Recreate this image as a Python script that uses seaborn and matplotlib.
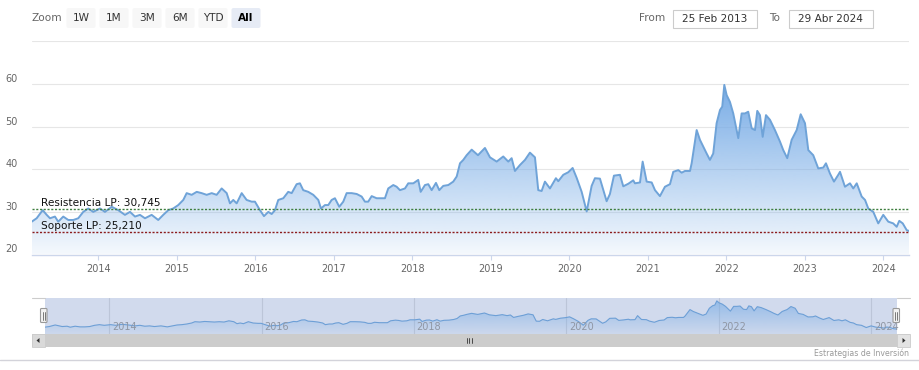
import matplotlib
matplotlib.use("Agg")
import matplotlib.pyplot as plt
import matplotlib.transforms as mtransforms
from matplotlib.colors import to_rgb
from matplotlib.patches import FancyBboxPatch, Rectangle, Polygon
import seaborn as sns
import pandas as pd
import numpy as np

# price series (decimal year, price)
years = [
    2013.152, 2013.215, 2013.292, 2013.343, 2013.385, 2013.448, 2013.490, 2013.554, 2013.618, 2013.682,
    2013.745, 2013.809, 2013.873, 2013.936, 2014.022, 2014.085, 2014.171, 2014.255, 2014.340, 2014.404,
    2014.468, 2014.531, 2014.595, 2014.680, 2014.764, 2014.828, 2014.892, 2014.955, 2015.019, 2015.083,
    2015.126, 2015.190, 2015.254, 2015.317, 2015.381, 2015.445, 2015.508, 2015.572, 2015.636, 2015.678,
    2015.720, 2015.763, 2015.827, 2015.890, 2015.954, 2015.996, 2016.060, 2016.111, 2016.166, 2016.209,
    2016.251, 2016.293, 2016.357, 2016.420, 2016.464, 2016.527, 2016.569, 2016.611, 2016.675, 2016.739,
    2016.803, 2016.837, 2016.888, 2016.930, 2016.973, 2017.015, 2017.070, 2017.121, 2017.164, 2017.228,
    2017.292, 2017.355, 2017.397, 2017.439, 2017.483, 2017.546, 2017.610, 2017.652, 2017.694, 2017.758,
    2017.801, 2017.843, 2017.907, 2017.949, 2018.013, 2018.076, 2018.107, 2018.162, 2018.204, 2018.247,
    2018.302, 2018.344, 2018.395, 2018.459, 2018.522, 2018.566, 2018.608, 2018.650, 2018.693, 2018.757,
    2018.837, 2018.926, 2018.990, 2019.075, 2019.159, 2019.223, 2019.266, 2019.308, 2019.372, 2019.436,
    2019.499, 2019.563, 2019.605, 2019.648, 2019.690, 2019.754, 2019.830, 2019.860, 2019.924, 2019.987,
    2020.043, 2020.094, 2020.158, 2020.222, 2020.285, 2020.327, 2020.391, 2020.476, 2020.518, 2020.569,
    2020.646, 2020.688, 2020.752, 2020.815, 2020.837, 2020.901, 2020.935, 2020.986, 2021.050, 2021.092,
    2021.155, 2021.219, 2021.283, 2021.325, 2021.389, 2021.432, 2021.474, 2021.538, 2021.559, 2021.623,
    2021.665, 2021.707, 2021.750, 2021.792, 2021.834, 2021.877, 2021.920, 2021.949, 2021.975, 2022.005,
    2022.047, 2022.089, 2022.153, 2022.196, 2022.238, 2022.280, 2022.324, 2022.366, 2022.395, 2022.429,
    2022.464, 2022.506, 2022.557, 2022.620, 2022.684, 2022.726, 2022.777, 2022.833, 2022.897, 2022.948,
    2023.003, 2023.045, 2023.108, 2023.172, 2023.236, 2023.270, 2023.321, 2023.372, 2023.427, 2023.449,
    2023.512, 2023.576, 2023.618, 2023.662, 2023.725, 2023.768, 2023.809, 2023.873, 2023.936, 2024.000,
    2024.064, 2024.127, 2024.171, 2024.204, 2024.248, 2024.299, 2024.333,
]
prices = [
    27.7, 28.5, 30.4, 29.3, 28.5, 28.9, 27.7, 28.9, 28.1, 28.1,
    28.5, 30.0, 30.8, 30.0, 30.8, 30.0, 31.2, 30.4, 29.3, 30.0,
    28.9, 29.3, 28.5, 29.3, 28.1, 29.3, 30.4, 30.8, 31.6, 32.8,
    34.4, 34.0, 34.7, 34.4, 34.0, 34.4, 34.0, 35.5, 34.4, 32.0,
    32.8, 32.0, 34.4, 32.8, 32.4, 32.4, 30.4, 29.0, 30.0, 29.5,
    30.4, 32.8, 33.2, 34.7, 34.4, 36.5, 36.7, 35.1, 34.7, 34.0,
    32.8, 30.8, 31.6, 31.6, 32.8, 33.2, 31.2, 32.4, 34.4, 34.4,
    34.2, 33.6, 32.4, 32.4, 33.7, 33.2, 33.2, 33.2, 35.5, 36.3,
    35.9, 35.1, 35.5, 36.7, 36.7, 37.5, 34.7, 36.3, 36.5, 35.1,
    36.8, 35.1, 36.1, 36.3, 37.1, 38.3, 41.4, 42.2, 43.3, 44.6,
    43.3, 45.0, 42.8, 41.8, 43.0, 41.8, 42.6, 39.6, 41.0, 42.2,
    43.9, 42.8, 35.1, 34.9, 37.1, 35.5, 37.9, 37.2, 38.7, 39.3,
    40.3, 38.0, 34.7, 30.1, 36.1, 37.9, 37.8, 32.5, 34.2, 38.5,
    38.7, 36.0, 36.6, 37.4, 36.7, 36.9, 41.8, 37.1, 36.9, 35.1,
    33.7, 35.9, 36.5, 39.4, 39.8, 39.2, 39.6, 39.6, 41.4, 49.2,
    46.9, 45.3, 43.7, 42.2, 43.7, 50.8, 53.9, 54.7, 59.8, 57.4,
    55.8, 53.1, 47.3, 53.1, 53.1, 53.5, 49.6, 49.2, 53.7, 52.7,
    47.6, 52.7, 51.6, 49.2, 46.5, 44.5, 42.6, 46.9, 49.2, 52.9,
    50.8, 44.5, 43.3, 40.2, 40.4, 41.4, 39.0, 37.1, 38.7, 39.4,
    35.9, 36.7, 35.5, 36.7, 33.6, 32.8, 30.8, 30.0, 27.3, 29.3,
    27.7, 27.3, 26.5, 27.9, 27.3, 25.7, 25.5,
]

resistance = 30.745
support = 25.210
resistance_label = "Resistencia LP: 30,745"
support_label = "Soporte LP: 25,210"
y_ticks = [20, 30, 40, 50, 60, 70]
x_ticks = list(range(2014, 2025))
nav_ticks = [2014, 2016, 2018, 2020, 2022, 2024]
zoom_buttons = ["1W", "1M", "3M", "6M", "YTD", "All"]
date_from = "25 Feb 2013"
date_to = "29 Abr 2024"
credit = "Estrategias de Inversión"

sns.set_theme(style="white")
plt.rcParams["font.family"] = ["DejaVu Sans"]

W, H = 919, 370
fig = plt.figure(figsize=(W / 100, H / 100), dpi=100)


def px_axes(x0, y0, x1, y1, **kw):
    return fig.add_axes([x0 / W, 1 - y1 / H, (x1 - x0) / W, (y1 - y0) / H], **kw)


def gradient_area(ax, x, y, base, bottom, top, a_bot, a_top, z):
    poly = ax.fill_between(x, y, bottom, color="none", lw=0)
    path = poly.get_paths()[0]
    n = 256
    rgba = np.zeros((n, 1, 4))
    rgba[..., :3] = to_rgb(base)
    rgba[:, 0, 3] = np.linspace(a_bot, a_top, n)
    im = ax.imshow(rgba, extent=[x[0], x[-1], bottom, top], origin="lower",
                   aspect="auto", zorder=z, interpolation="bilinear")
    im.set_clip_path(path, transform=ax.transData)


df = pd.DataFrame({"year": years, "price": prices})
line_c = "#6fa3d8"

# main chart
ax = px_axes(31.7, 41.4, 909.4, 254.5)
gradient_area(ax, years, prices, "#78ace6", 20, max(prices), 0.08, 1.0, 1)
sns.lineplot(data=df, x="year", y="price", ax=ax, color=line_c, lw=1.4,
             estimator=None, zorder=3)
ax.axhline(resistance, color="#3f7f3f", lw=1, ls=(0, (1.5, 1.2)), zorder=4)
ax.axhline(support, color="#8c1c1c", lw=1, ls=(0, (1.5, 1.2)), zorder=4)
blend = mtransforms.blended_transform_factory(ax.transAxes, ax.transData)
for val, lab in [(resistance, resistance_label), (support, support_label)]:
    ax.annotate(lab, xy=(0, val), xycoords=blend, xytext=(6.5, 2.2),
                textcoords="offset points", ha="left", va="baseline",
                fontsize=7.6, color="#111111", zorder=5)

ax.set_xlim(years[0], years[-1])
ax.set_ylim(20, 70)
ax.set_yticks(y_ticks)
ax.set_yticklabels(["" if v == 70 else str(v) for v in y_ticks], va="bottom")
ax.set_xticks(x_ticks)
ax.set_xticklabels([str(v) for v in x_ticks])
ax.tick_params(axis="y", length=0, pad=10, labelsize=7, labelcolor="#666666")
ax.tick_params(axis="x", length=3.5, width=0.8, color="#ccd6eb", pad=3.5,
               labelsize=7, labelcolor="#666666", bottom=True)
ax.grid(axis="y", color="#e6e6e6", lw=0.8)
ax.grid(axis="x", visible=False)
for side in ["top", "left", "right"]:
    ax.spines[side].set_visible(False)
ax.spines["bottom"].set_color("#ccd6eb")
ax.spines["bottom"].set_linewidth(1)
ax.set_xlabel("")
ax.set_ylabel("")
ax.set_facecolor("white")

# navigator
nav = px_axes(44.5, 298, 896.5, 334)
nav.set_facecolor("#d1daed")
for yr in nav_ticks:
    nav.axvline(yr, color="#bcc5d8", lw=0.8, zorder=0)
gradient_area(nav, years, prices, "#7aaee6", 19.4, max(prices), 0.05, 0.7, 1)
sns.lineplot(data=df, x="year", y="price", ax=nav, color="#6d9fd6", lw=0.8,
             estimator=None, zorder=3)
nblend = mtransforms.blended_transform_factory(nav.transData, nav.transAxes)
for yr in nav_ticks:
    nav.annotate(str(yr), xy=(yr, 0.2), xycoords=nblend, xytext=(2, 0),
                 textcoords="offset points", ha="left", va="center",
                 fontsize=7, color="#8f96a3", zorder=4)
nav.set_xlim(years[0], years[-1])
nav.set_ylim(19.4, 63.3)
nav.set_xticks([])
nav.set_yticks([])
nav.set_xlabel("")
nav.set_ylabel("")
for s in nav.spines.values():
    s.set_visible(False)

# overlay for the range selector, scrollbar and handles
ov = fig.add_axes([0, 0, 1, 1], zorder=10)
ov.set_xlim(0, W)
ov.set_ylim(H, 0)
ov.axis("off")
ov.patch.set_alpha(0)

ov.text(47, 18, "Zoom", ha="center", va="center", fontsize=7.6, color="#666666")
for i, lab in enumerate(zoom_buttons):
    cx = 81 + i * 33
    sel = lab == "All"
    ov.add_patch(FancyBboxPatch((cx - 14.5, 8), 29, 20,
                                boxstyle="round,pad=0,rounding_size=2",
                                fc="#e6ebf5" if sel else "#f7f7f7", ec="none"))
    ov.text(cx, 18, lab, ha="center", va="center", fontsize=7.6,
            color="#000000" if sel else "#333333",
            fontweight="bold" if sel else "normal")

ov.text(652, 18, "From", ha="center", va="center", fontsize=7.6, color="#666666")
ov.add_patch(Rectangle((672.5, 9.5), 84, 18.5, fc="white", ec="#cccccc", lw=0.8))
ov.text(714.5, 18.7, date_from, ha="center", va="center", fontsize=7.6, color="#333333")
ov.text(774.5, 18, "To", ha="center", va="center", fontsize=7.6, color="#666666")
ov.add_patch(Rectangle((788.5, 9.5), 84, 18.5, fc="white", ec="#cccccc", lw=0.8))
ov.text(830.5, 18.7, date_to, ha="center", va="center", fontsize=7.6, color="#333333")

# navigator outline at the sides
ov.plot([32, 44.5], [298, 298], color="#cccccc", lw=0.8)
ov.plot([896.5, 910], [298, 298], color="#cccccc", lw=0.8)

# scrollbar
ov.add_patch(Rectangle((32, 334), 878, 13, fc="#cccccc", ec="none"))
ov.add_patch(Rectangle((32, 334), 12.5, 13, fc="#d9d9d9", ec="#cccccc", lw=0.6))
ov.add_patch(Rectangle((896.5, 334), 13.5, 13, fc="#e3e3e3", ec="#cccccc", lw=0.6))
ov.add_patch(Polygon([(36.5, 340.5), (39.5, 338), (39.5, 343)], fc="#333333", ec="none"))
ov.add_patch(Polygon([(905.5, 340.5), (902.5, 338), (902.5, 343)], fc="#333333", ec="none"))
for gx in [467, 469.3, 471.6]:
    ov.plot([gx, gx], [338, 343], color="#333333", lw=0.6)

# handles
for hx in [40.5, 893]:
    ov.add_patch(FancyBboxPatch((hx, 308.5), 6.5, 14,
                                boxstyle="round,pad=0,rounding_size=1",
                                fc="#f2f2f2", ec="#999999", lw=0.8))
    for lx in [hx + 2.4, hx + 4.2]:
        ov.plot([lx, lx], [311.5, 319.5], color="#666666", lw=0.6)

# bottom rule and credit
ov.plot([0, W], [360, 360], color="#d3d3da", lw=1)
ov.text(909, 353, credit, ha="right", va="center", fontsize=5.6, color="#999999")

fig.savefig("out.png", dpi=100)
